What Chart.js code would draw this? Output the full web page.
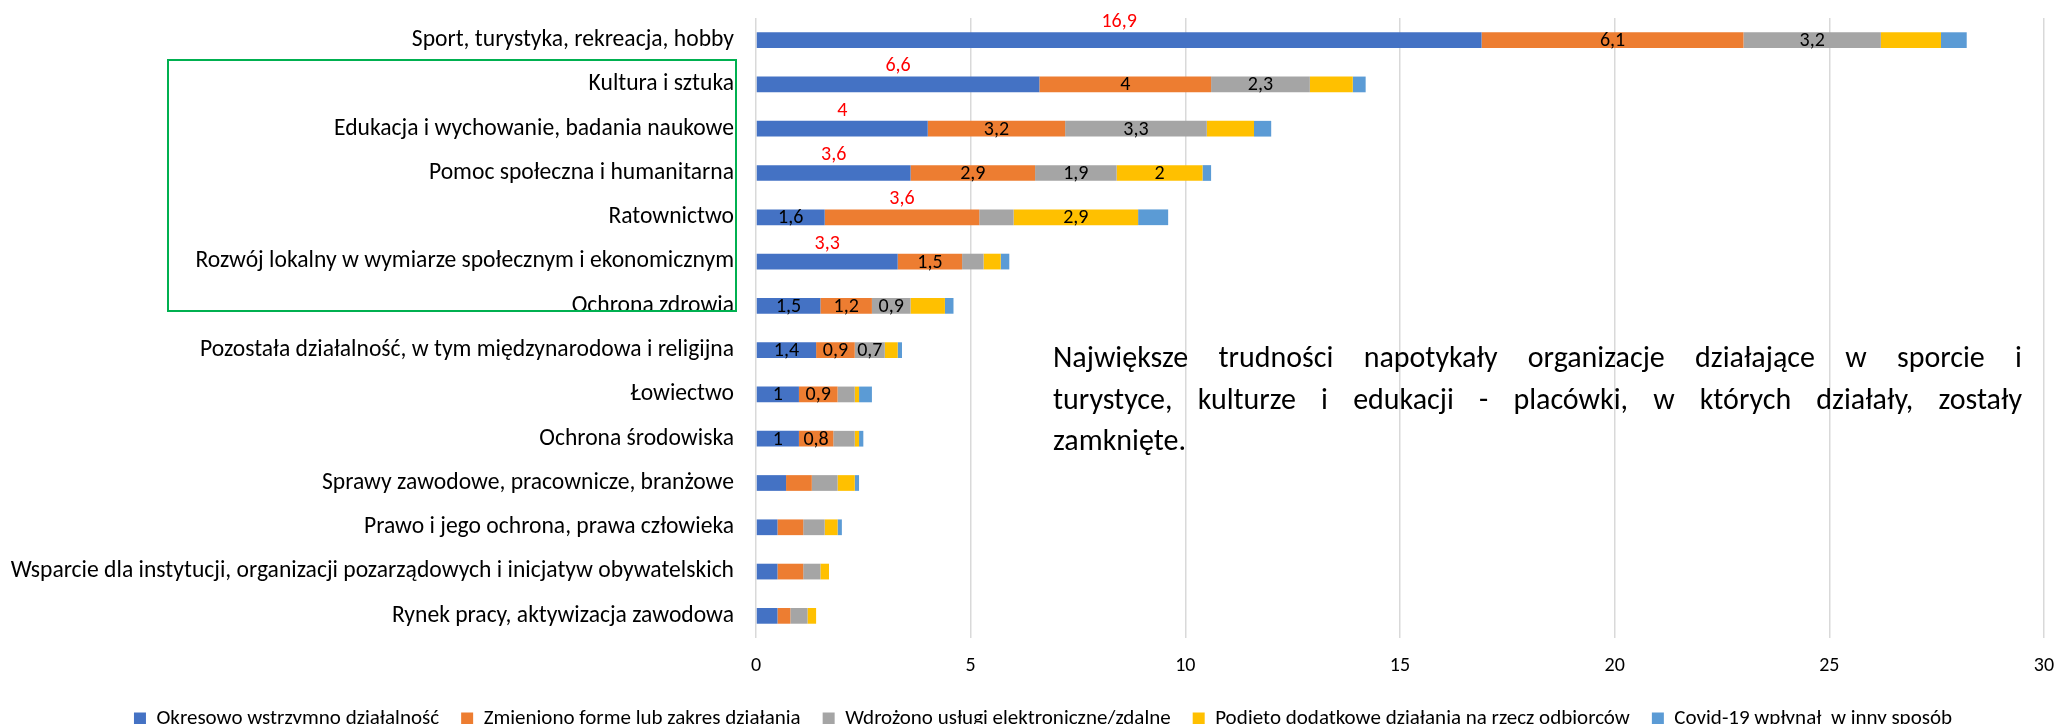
<!DOCTYPE html>
<html lang="pl">
<head>
<meta charset="utf-8">
<title>Wpływ Covid-19 na organizacje</title>
<script src="https://cdn.jsdelivr.net/npm/chart.js@4.4.1/dist/chart.umd.min.js"></script>
<style>
  html, body { margin: 0; padding: 0; background: #fff; overflow: hidden; }
  #wrap { position: relative; width: 2060px; height: 724px; overflow: hidden; }
  #chart { position: absolute; left: 0; top: 0; }
  #frame { position: absolute; left: 167px; top: 59px; width: 570px; height: 253px;
           border: 2px solid #00B050; box-sizing: border-box; }
  #note { position: absolute; left: 1053px; top: 336px; width: 969px;
          font-family: Carlito, Lato, sans-serif; font-size: 30px; line-height: 41.5px; color: #000; }
  #note .j { text-align: justify; text-align-last: justify; }
</style>
</head>
<body>
<div id="wrap">
  <canvas id="chart" width="2060" height="739"></canvas>
  <div id="frame"></div>
  <div id="note">
    <div class="j">Największe trudności napotykały organizacje działające w sporcie i</div>
    <div class="j">turystyce, kulturze i edukacji - placówki, w których działały, zostały</div>
    <div>zamknięte.</div>
  </div>
</div>
<script>
const categories = [
  'Sport, turystyka, rekreacja, hobby',
  'Kultura i sztuka',
  'Edukacja i wychowanie, badania naukowe',
  'Pomoc społeczna i humanitarna',
  'Ratownictwo',
  'Rozwój lokalny w wymiarze społecznym i ekonomicznym',
  'Ochrona zdrowia',
  'Pozostała działalność, w tym międzynarodowa i religijna',
  'Łowiectwo',
  'Ochrona środowiska',
  'Sprawy zawodowe, pracownicze, branżowe',
  'Prawo i jego ochrona, prawa człowieka',
  'Wsparcie dla instytucji, organizacji pozarządowych i inicjatyw obywatelskich',
  'Rynek pracy, aktywizacja zawodowa'
];

const seriesNames = [
  'Okresowo wstrzymno działalność',
  'Zmieniono formę lub zakres działania',
  'Wdrożono usługi elektroniczne/zdalne',
  'Podjęto dodatkowe działania na rzecz odbiorców',
  'Covid-19 wpłynął  w inny sposób'
];

const wstrzymano = [16.9, 6.6, 4.0, 3.6, 1.6, 3.3, 1.5, 1.4, 1.0, 1.0, 0.7, 0.5, 0.5, 0.5];
const zmieniono  = [6.1, 4.0, 3.2, 2.9, 3.6, 1.5, 1.2, 0.9, 0.9, 0.8, 0.6, 0.6, 0.6, 0.3];
const wdrozono   = [3.2, 2.3, 3.3, 1.9, 0.8, 0.5, 0.9, 0.7, 0.4, 0.5, 0.6, 0.5, 0.4, 0.4];
const podjeto    = [1.4, 1.0, 1.1, 2.0, 2.9, 0.4, 0.8, 0.3, 0.1, 0.1, 0.4, 0.3, 0.2, 0.2];
const inny       = [0.6, 0.3, 0.4, 0.2, 0.7, 0.2, 0.2, 0.1, 0.3, 0.1, 0.1, 0.1, 0.0, 0.0];

const xTicks = [0, 5, 10, 15, 20, 25, 30];

// which series gets the red label above the bar (-1 = none)
const redLabelSeries = [0, 0, 0, 0, 1, 0, -1, -1, -1, -1, -1, -1, -1, -1];
// which series get black labels inside the bar
const blackLabelSeries = [[1, 2], [1, 2], [1, 2], [1, 2, 3], [0, 3], [1], [0, 1, 2], [0, 1, 2], [0, 1], [0, 1], [], [], [], []];

const colors = ['#4472C4', '#ED7D31', '#A5A5A5', '#FFC000', '#5B9BD5'];
const FONT = 'Carlito, Lato, sans-serif';

const fmt = v => String(v).replace('.', ',');

const barLabels = {
  id: 'barLabels',
  afterDatasetsDraw(chart) {
    const ctx = chart.ctx;
    ctx.save();
    ctx.font = '20px ' + FONT;
    ctx.textAlign = 'center';
    ctx.textBaseline = 'middle';
    categories.forEach((c, i) => {
      blackLabelSeries[i].forEach(d => {
        const bar = chart.getDatasetMeta(d).data[i];
        ctx.fillStyle = '#000';
        ctx.fillText(fmt(chart.data.datasets[d].data[i]), (bar.x + bar.base) / 2, bar.y + 1);
      });
      const r = redLabelSeries[i];
      if (r >= 0) {
        const bar = chart.getDatasetMeta(r).data[i];
        ctx.fillStyle = '#FF0000';
        ctx.fillText(fmt(chart.data.datasets[r].data[i]), (bar.x + bar.base) / 2, bar.y - 18);
      }
    });
    ctx.restore();
  }
};

// legend in the original sits a bit right of the canvas centre
const legendShift = {
  id: 'legendShift',
  beforeDraw(chart) { chart.legend.left = 42; }
};

new Chart(document.getElementById('chart'), {
  type: 'bar',
  data: {
    labels: categories,
    datasets: [wstrzymano, zmieniono, wdrozono, podjeto, inny].map((d, k) => ({
      label: seriesNames[k],
      data: d,
      backgroundColor: colors[k],
      borderWidth: 0,
      barPercentage: 0.355,
      categoryPercentage: 1
    }))
  },
  options: {
    indexAxis: 'y',
    responsive: false,
    animation: false,
    layout: { padding: { top: 18, right: 16, left: 0, bottom: 0 } },
    plugins: {
      tooltip: { enabled: false },
      legend: {
        position: 'bottom',
        labels: {
          boxWidth: 12,
          boxHeight: 12,
          padding: 22,
          color: '#000',
          font: { family: FONT, size: 21 }
        }
      }
    },
    scales: {
      x: {
        stacked: true,
        min: 0,
        max: 30,
        afterBuildTicks: s => { s.ticks = xTicks.map(v => ({ value: v })); },
        afterFit: s => { s.height = 48; s.paddingLeft = 0; s.paddingRight = 0; },
        ticks: { color: '#000', padding: 16, font: { family: FONT, size: 20 } },
        grid: { color: '#D9D9D9', lineWidth: 1.5, drawTicks: false },
        border: { display: false }
      },
      y: {
        stacked: true,
        afterFit: s => { s.width = 756; s.paddingTop = 0; s.paddingBottom = 0; },
        ticks: { color: '#000', padding: 22, font: { family: FONT, size: 23.6 } },
        grid: { display: false, drawTicks: false },
        border: { display: false }
      }
    }
  },
  plugins: [barLabels, legendShift]
});
</script>
</body>
</html>
